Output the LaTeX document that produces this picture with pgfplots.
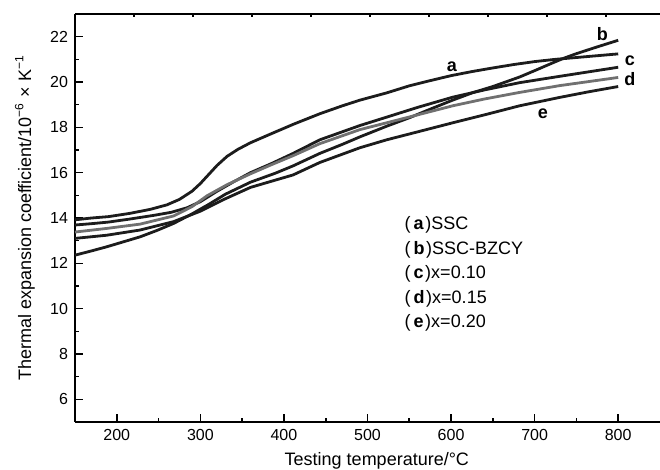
\documentclass[border=0pt]{standalone}
\usepackage{fontspec}
\setmainfont{Liberation Sans}
\usepackage{pgfplots}
\pgfplotsset{compat=1.18}
\definecolor{curveblack}{HTML}{1C1C1C}
\definecolor{curvegray}{HTML}{707070}
\begin{document}
\begin{tikzpicture}
\begin{axis}[
  scale only axis,
  width=292.5pt, height=204pt,
  xmin=150, xmax=850, ymin=5, ymax=23,
  axis x line*=bottom, axis y line*=left,
  axis line style={line width=0.8pt, black, -},
  xtick={200,300,...,800}, ytick={6,8,...,22},
  minor x tick num=1, minor y tick num=1,
  tick align=inside,
  major tick length=4pt, minor tick length=2pt,
  tick style={line width=0.8pt, black},
  ticklabel style={font=\fontsize{8}{9}\selectfont},
  /pgf/number format/assume math mode=true,
  xlabel={Testing temperature/°C},
  ylabel={Thermal expansion coefficient/10\textsuperscript{−6} × K\textsuperscript{−1}},
  label style={font=\fontsize{9}{10}\selectfont},
  xlabel style={at={(axis description cs:0.516,0)}, anchor=base, yshift=-22pt},
  ylabel style={at={(axis description cs:-0.0855,0.5)}, anchor=center},
  clip=false,
]
% (a) SSC
\addplot[curveblack, line width=1.4pt] coordinates {
  (150,13.92) (170,14.0) (190,14.06) (215,14.2) (240,14.38) (260,14.58)
  (275,14.82) (290,15.18) (300,15.52) (310,15.92) (320,16.32) (332,16.72)
  (345,17.03) (360,17.32) (385,17.72) (411,18.13) (443,18.6) (470,18.95)
  (491,19.2) (523,19.52) (550,19.83) (575,20.06) (600,20.28) (625,20.46)
  (650,20.62) (675,20.77) (700,20.9) (725,21.0) (750,21.08) (775,21.16)
  (800,21.24)
};
% (b) SSC-BZCY
\addplot[curveblack, line width=1.4pt] coordinates {
  (150,12.36) (170,12.55) (188,12.73) (208,12.95) (228,13.17) (248,13.45)
  (268,13.76) (290,14.18) (310,14.6) (330,15.05) (360,15.58) (390,15.98)
  (411,16.3) (443,16.85) (470,17.25) (491,17.58) (523,18.05) (550,18.42)
  (575,18.8) (602,19.2) (626,19.53) (650,19.8) (682,20.22) (700,20.5)
  (722,20.85) (735,21.05) (750,21.25) (775,21.55) (800,21.84)
};
% (c) x=0.10
\addplot[curveblack, line width=1.4pt] coordinates {
  (150,13.69) (170,13.75) (190,13.82) (215,13.95) (245,14.12) (265,14.25)
  (284,14.45) (300,14.72) (320,15.18) (340,15.6) (360,16.0) (385,16.4)
  (411,16.85) (443,17.45) (491,18.08) (523,18.45) (560,18.88) (602,19.33)
  (640,19.65) (682,19.97) (730,20.25) (765,20.45) (800,20.65)
};
% (d) x=0.15
\addplot[curvegray, line width=1.4pt] coordinates {
  (150,13.38) (188,13.54) (228,13.73) (268,14.09) (290,14.5) (308,14.98)
  (332,15.47) (360,15.95) (385,16.35) (411,16.75) (443,17.28) (491,17.9)
  (523,18.2) (560,18.55) (602,18.95) (640,19.25) (682,19.54) (730,19.84)
  (765,20.02) (800,20.2)
};
% (e) x=0.20
\addplot[curveblack, line width=1.4pt] coordinates {
  (150,13.1) (188,13.24) (228,13.47) (268,13.84) (300,14.3) (330,14.85)
  (360,15.35) (385,15.62) (411,15.9) (443,16.45) (491,17.1) (523,17.45)
  (560,17.8) (602,18.2) (640,18.55) (682,18.95) (730,19.32) (765,19.57)
  (800,19.8)
};
% curve labels
\node[font=\fontsize{9}{10}\selectfont\bfseries] at (axis cs:601,20.67) {a};
\node[font=\fontsize{9}{10}\selectfont\bfseries] at (axis cs:781,22.13) {b};
\node[font=\fontsize{9}{10}\selectfont\bfseries] at (axis cs:814,20.95) {c};
\node[font=\fontsize{9}{10}\selectfont\bfseries] at (axis cs:814,20.13) {d};
\node[font=\fontsize{9}{10}\selectfont\bfseries] at (axis cs:710,18.58) {e};
% legend text
\node[anchor=base west, font=\fontsize{9}{10}\selectfont] at (axis cs:536,13.49) {(\hspace{1.5pt}\textbf{a}\hspace{0.8pt})SSC};
\node[anchor=base west, font=\fontsize{9}{10}\selectfont] at (axis cs:536,12.41) {(\hspace{1.5pt}\textbf{b}\hspace{0.8pt})SSC-BZCY};
\node[anchor=base west, font=\fontsize{9}{10}\selectfont] at (axis cs:536,11.32) {(\hspace{1.5pt}\textbf{c}\hspace{0.8pt})x=0.10};
\node[anchor=base west, font=\fontsize{9}{10}\selectfont] at (axis cs:536,10.24) {(\hspace{1.5pt}\textbf{d}\hspace{0.8pt})x=0.15};
\node[anchor=base west, font=\fontsize{9}{10}\selectfont] at (axis cs:536,9.16) {(\hspace{1.5pt}\textbf{e}\hspace{0.8pt})x=0.20};
\end{axis}
% top axis line with its own small ticks, no labels
\begin{axis}[
  scale only axis,
  width=292.5pt, height=204pt,
  xmin=150, xmax=850, ymin=5, ymax=23,
  axis x line*=top, axis y line=none,
  axis line style={line width=0.8pt, black, -},
  xtick={220.6,291.1,361.7,432.3,502.9,573.4,644,714.6,785.2},
  xticklabels={,,,,,,,,},
  tick align=inside, major tick length=1.5pt,
  tick style={line width=0.8pt, black},
]
\end{axis}
\pgfresetboundingbox
\path[use as bounding box] (-37.5pt,-24pt) rectangle (292.5pt,211pt);
\end{tikzpicture}
\end{document}
